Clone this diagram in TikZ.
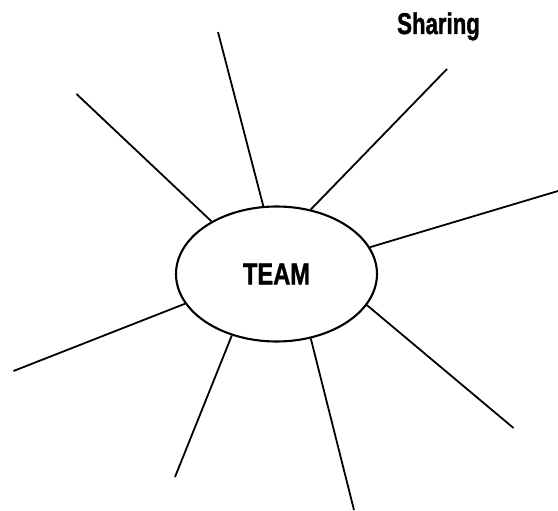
\documentclass[tikz,border=0pt]{standalone}
\usepackage{fontspec}
\setmainfont{Liberation Sans}
\newfontfamily\heavyfont{Liberation Sans Bold}[FakeBold=1.5]
\usetikzlibrary{shapes.geometric}
\begin{document}
\begin{tikzpicture}[
  x=1pt, y=-1pt,
  hub/.style={draw,ellipse,line width=2.1pt,
    minimum width=201pt,minimum height=135pt,inner sep=0pt,
    font=\fontsize{30}{32}\heavyfont},
  tag/.style={font=\fontsize{30}{32}\heavyfont,inner sep=0pt},
  spoke/.style={draw,line width=1.8pt}]
\useasboundingbox (0,0) rectangle (558,511);
\node[hub] (team) at (276.5,274) {\scalebox{0.79}[1]{TEAM}};
\node[tag,anchor=base] (sharing) at (438.5,34) {\scalebox{0.74}[1]{Sharing}};
% free ends of the spokes
\coordinate (e1) at (76.5,94);
\coordinate (e2) at (218,32);
\coordinate (e3) at (447,69);
\coordinate (e4) at (558,191);
\coordinate (e5) at (513.5,428);
\coordinate (e6) at (354,510);
\coordinate (e7) at (175,477);
\coordinate (e8) at (13.5,371);
\draw[spoke] (team.141) -- (e1);
\draw[spoke] (team.101) -- (e2);
\draw[spoke] (team.62) -- (e3);
\draw[spoke] (team.16) -- (e4);
\draw[spoke] (team.341) -- (e5);
\draw[spoke] (team.298) -- (e6);
\draw[spoke] (team.234) -- (e7);
\draw[spoke] (team.198) -- (e8);
\end{tikzpicture}
\end{document}
